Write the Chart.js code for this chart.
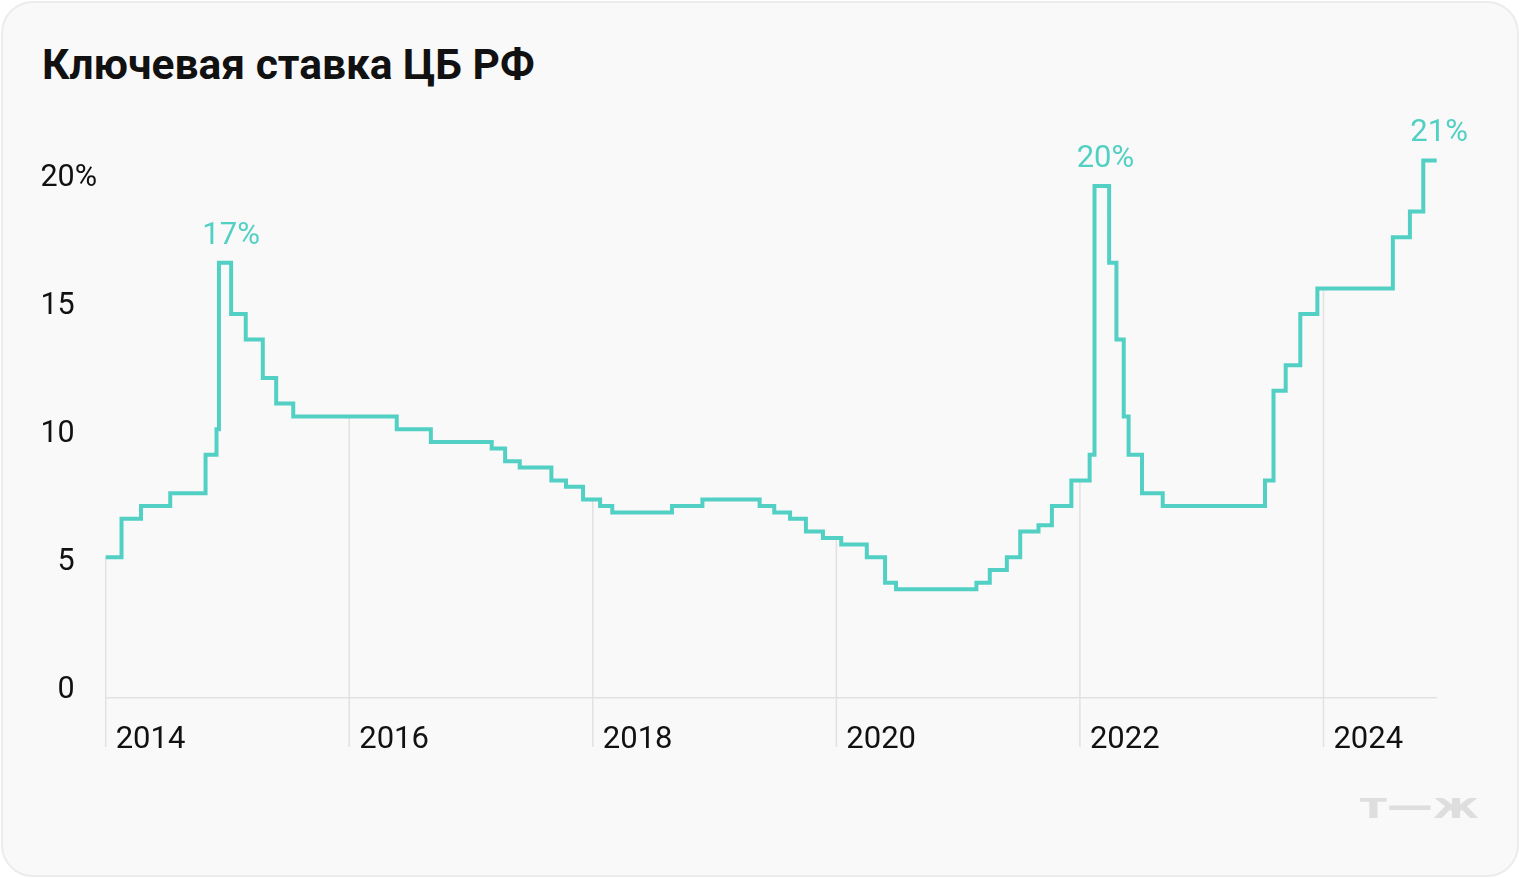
<!DOCTYPE html>
<html>
<head>
<meta charset="utf-8">
<script src="https://cdn.jsdelivr.net/npm/chart.js@4.4.1/dist/chart.umd.min.js"></script>
<style>
  body { margin: 0; background: #fff; }
  #card { position: absolute; left: 1px; top: 1px; width: 1514px; height: 872px; border: 2px solid #ececec; border-radius: 32px; background: #f9f9f9; }
  #title { position: absolute; left: 42px; top: 44px; font: 700 42.5px Roboto, sans-serif; line-height: 1; color: #111; margin: 0; }
  #wrap { position: absolute; left: 0; top: 0; width: 1520px; height: 878px; }
</style>
</head>
<body>
<div id="card"></div>
<h1 id="title">Ключевая ставка ЦБ РФ</h1>
<div id="wrap"><canvas id="rateChart"></canvas></div>
<script>
// dates of rate changes (decimal years) and the rate from that date on
const rateDates = [2014.0, 2014.13, 2014.29, 2014.53, 2014.82, 2014.91, 2014.93, 2015.03, 2015.15, 2015.29, 2015.40, 2015.54,
  2016.39, 2016.67, 2017.17, 2017.28, 2017.40, 2017.66, 2017.78, 2017.92, 2018.06, 2018.16, 2018.65, 2018.90,
  2019.37, 2019.49, 2019.62, 2019.75, 2019.89, 2020.04, 2020.25, 2020.40, 2020.49, 2021.15, 2021.26, 2021.40,
  2021.51, 2021.66, 2021.77, 2021.93, 2022.08, 2022.12, 2022.24, 2022.30, 2022.36, 2022.40, 2022.51, 2022.68,
  2023.52, 2023.59, 2023.69, 2023.81, 2023.95, 2024.57, 2024.71, 2024.82, 2024.93];
const rateValues = [5.5, 7, 7.5, 8, 9.5, 10.5, 17, 15, 14, 12.5, 11.5, 11,
  10.5, 10, 9.75, 9.25, 9, 8.5, 8.25, 7.75, 7.5, 7.25, 7.5, 7.75,
  7.5, 7.25, 7, 6.5, 6.25, 6, 5.5, 4.5, 4.25, 4.5, 5, 5.5,
  6.5, 6.75, 7.5, 8.5, 9.5, 20, 17, 14, 11, 9.5, 8, 7.5,
  8.5, 12, 13, 15, 16, 18, 19, 21, 21];

const tickYears = [2014, 2016, 2018, 2020, 2022, 2024];
const yTicks = [0, 5, 10, 15, 20];

// peak captions
const peakYears = [2015.03, 2022.21, 2024.95];
const peakValues = [17, 20, 21];

const teal = '#52d0c4';

function rateAt(t){
  let v = rateValues[0];
  rateDates.forEach((d, i) => { if (d <= t) v = rateValues[i]; });
  return v;
}

const decor = {
  id: 'decor',
  beforeDatasetsDraw(chart){
    const { ctx, chartArea, scales: { x, y } } = chart;
    ctx.save();
    // year lines from the rate line down under the axis
    ctx.strokeStyle = '#e2e2e2';
    ctx.lineWidth = 1.5;
    tickYears.forEach(t => {
      const px = x.getPixelForValue(t);
      ctx.beginPath();
      ctx.moveTo(px, y.getPixelForValue(rateAt(t)));
      ctx.lineTo(px, chartArea.bottom + 49);
      ctx.stroke();
    });
    // y labels, sitting above their values
    ctx.fillStyle = '#111';
    ctx.font = '30.5px Roboto';
    ctx.textBaseline = 'middle';
    yTicks.forEach(v => {
      const py = y.getPixelForValue(v) - 8;
      ctx.textAlign = 'right';
      ctx.fillText(String(v), chartArea.left - 31, py);
      if (v === 20) {
        ctx.textAlign = 'left';
        ctx.fillText('%', chartArea.left - 31, py);
      }
    });
    ctx.restore();
  },
  afterDatasetsDraw(chart){
    const { ctx, scales: { x, y } } = chart;
    ctx.save();
    ctx.fillStyle = teal;
    ctx.font = '31px Roboto';
    ctx.textAlign = 'center';
    ctx.textBaseline = 'alphabetic';
    peakYears.forEach((t, i) => {
      ctx.fillText(peakValues[i] + '%', x.getPixelForValue(t), y.getPixelForValue(peakValues[i]) - 19);
    });
    // logo
    ctx.fillStyle = '#dedede';
    ctx.font = '900 36px "DejaVu Sans"';
    ctx.textAlign = 'left';
    const w = ctx.measureText('т—ж').width;
    ctx.translate(1360, 818);
    ctx.scale(119 / w, 1);
    ctx.fillText('т—ж', 0, 0);
    ctx.restore();
  }
};

new Chart(document.getElementById('rateChart'), {
  type: 'line',
  data: {
    datasets: [{
      data: rateDates.map((d, i) => ({ x: d, y: rateValues[i] })),
      borderColor: teal,
      borderWidth: 4,
      pointRadius: 0,
      stepped: 'before',
      fill: false,
      clip: 10
    }]
  },
  options: {
    responsive: true,
    maintainAspectRatio: false,
    animation: false,
    layout: { padding: { left: 105.7, right: 83.3, top: 134.8, bottom: 120 } },
    plugins: { legend: { display: false }, tooltip: { enabled: false } },
    scales: {
      x: {
        type: 'linear',
        min: 2014,
        max: 2024.93,
        grid: { display: false, drawTicks: false },
        border: { display: true, color: '#e2e2e2', width: 1.5 },
        afterBuildTicks: s => { s.ticks = tickYears.map(v => ({ value: v })); },
        afterFit: s => { s.height = 60; },
        ticks: {
          align: 'start',
          labelOffset: 10,
          padding: 24,
          color: '#111',
          font: { family: 'Roboto', size: 31 },
          callback: v => String(v)
        }
      },
      y: { display: false, min: 0, max: 22 }
    }
  },
  plugins: [decor]
});
</script>
</body>
</html>
